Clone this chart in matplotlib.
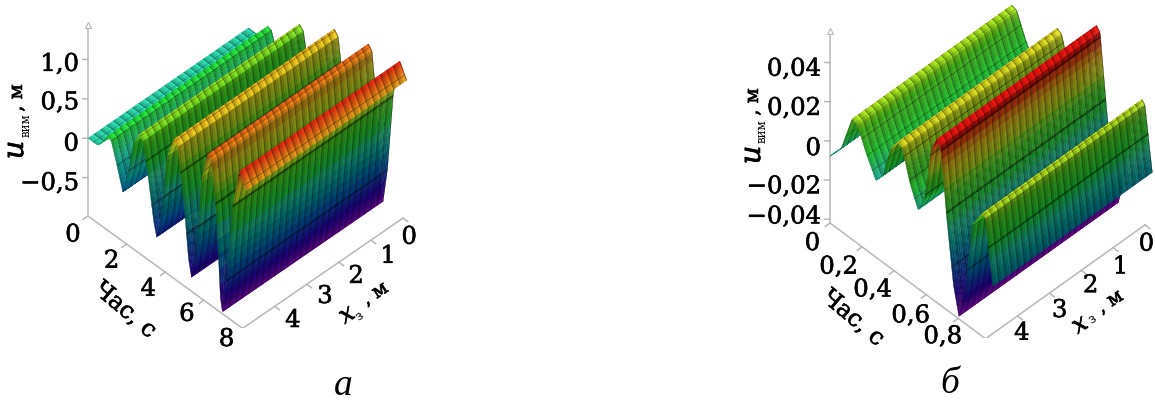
import numpy as np
import matplotlib
matplotlib.use("Agg")
import matplotlib.pyplot as plt
import matplotlib.patheffects as pe
from matplotlib.colors import LinearSegmentedColormap
from mpl_toolkits.mplot3d import proj3d

# ---- data ----
t_a = [0, .5, .8, 1.0, 1.2, 1.5, 1.8, 2.05, 2.35, 2.65, 2.85, 3.15, 3.4, 3.56, 3.8, 4.1, 4.45, 4.65, 4.95,
       5.2, 5.36, 5.6, 5.9, 6.2, 6.4, 6.65, 6.85, 6.96, 7.2, 7.5, 7.84, 8.2]
u_a = [0, 0, .1, .2, .18, -.08, -.36, -.1, .35, .52, .47, 0, -.45, -.63, -.3, .5, .78, .72, .1,
       -.6, -.82, -.4, .55, .91, .85, .2, -.8, -.98, -.5, .5, .98, .8]
t_b = [0, .07, .138, .17, .22, .286, .33, .38, .423, .45, .5, .55, .59, .63, .667, .69, .73, .77, .804,
       .84, .89, .952, .97, 1.0, 1.016]
u_b = [-.0078, .0004, .0197, .0189, .0084, -.0028, .0024, .0194, .0251, .0239, .0084, -.0018, .0064, .0334, .0415,
       .0394, .0034, -.0266, -.0406, -.0266, .0114, .021, .0194, -.0016, -.0123]

z_ticks_a = [1.0, 0.5, 0, -0.5]
z_labels_a = ["1,0", "0,5", "0", "\u22120,5"]
t_ticks_a = [0, 2, 4, 6, 8]
t_labels_a = ["0", "2", "4", "6", "8"]
x_ticks = [0, 1, 2, 3, 4]
x_labels = ["0", "1", "2", "3", "4"]
z_ticks_b = [.04, .02, 0, -.02, -.04]
z_labels_b = ["0,04", "0,02", "0", "\u22120,02", "\u22120,04"]
t_ticks_b = [0, .2, .4, .6, .8]
t_labels_b = ["0", "0,2", "0,4", "0,6", "0,8"]

W, H = 1155, 405
fig = plt.figure(figsize=(W / 100, H / 100), dpi=100, facecolor="white")
FONT = "DejaVu Serif"
GREY = "#b8b8b8"
HEAVY = [pe.withStroke(linewidth=.45, foreground="#111111")]

cmap = LinearSegmentedColormap.from_list("rb", [
    (0, "#a010c8"), (.13, "#2a00b8"), (.3, "#0068b8"), (.42, "#00a8a0"), (.5, "#20c8a0"),
    (.6, "#20d830"), (.72, "#50d820"), (.78, "#b8e020"), (.86, "#e8d020"), (.93, "#ec8818"), (1, "#ec1410")])


def ptext(px, py, s, **kw):
    kw.setdefault("family", FONT)
    kw.setdefault("ha", "center")
    kw.setdefault("va", "center")
    fig.text(px / W, 1 - py / H, s, **kw)


def panel(t_k, u_k, tmax, zlim, zt, zl, tt, tl, view, aspect, A, B, tlab_dx, xlab, norm_rng, t_step, zshift,
          z_dy, t_px, x_px):
    ax = fig.add_axes([.1, .1, .3, .3 * W / H], projection="3d", proj_type="ortho")
    ax.computed_zorder = False
    ax.set_axis_off()
    ax.view_init(elev=view[0], azim=view[1])
    ax.set_box_aspect(aspect)

    # grid: thin rows / columns carry the dark mesh lines
    x_edges = []
    d = 5 / 25
    for e in np.linspace(0, 5, 26)[:-1]:
        x_edges += [e, e + .03, e + .03 + (d - .03) / 3, e + .03 + 2 * (d - .03) / 3]
    x_edges = np.array(x_edges + [5.0])
    tend = t_k[-1]
    tg = []
    for m in np.arange(0, tend, t_step):
        tg += list(np.linspace(m, m + t_step * .96, 9)) + [min(m + t_step, tend)]
    tg = np.unique(np.clip(tg, 0, tend))
    is_line_t = np.zeros(len(tg) - 1, bool)
    for i, v in enumerate(tg[:-1]):
        is_line_t[i] = (tg[i + 1] - v) < t_step * .06 and abs(tg[i + 1] / t_step - round(tg[i + 1] / t_step)) < 1e-6
    u_g = np.interp(tg, t_k, u_k)
    X, T = np.meshgrid(x_edges, tg)
    U = np.tile(u_g[:, None], (1, len(x_edges)))

    rng = norm_rng[1] - norm_rng[0]
    ucell = (u_g[:-1] + u_g[1:]) / 2
    slope = np.abs(np.diff(u_g) / np.maximum(np.diff(tg), 1e-9))
    base = cmap(np.clip((ucell - norm_rng[0]) / rng, 0, 1))[:, :3]
    shade_t = .6 + .45 * np.exp(-(slope / (np.percentile(slope, 95) * .3)) ** 2)
    shade_t = np.where(is_line_t, shade_t * .55, shade_t)
    shade_x = np.tile([.62, 1.06, .96, .84], 25)
    fc = np.ones((len(tg) - 1, len(x_edges) - 1, 4))
    for j in range(len(x_edges) - 1):
        fc[:, j, :3] = np.clip(base * (shade_t * shade_x[j])[:, None], 0, 1)
    ax.plot_surface(X, T, U, facecolors=fc, rstride=1, cstride=1, shade=False, linewidth=.25, zorder=3)
    ax.set_xlim(0, 5)
    ax.set_ylim(0, tmax)
    ax.set_zlim(*zlim)

    # axes lines, ticks
    kw = dict(color=GREY, lw=1.1, zorder=1)
    ax.plot([5, 5], [0, 0], zlim, **kw)
    ax.plot([5, 5], [0, tmax], [zlim[0]] * 2, **kw)
    ax.plot([0, 5], [tmax, tmax], [zlim[0]] * 2, **kw)
    ax.plot([5], [0], [zlim[1]], marker="^", ms=4, mfc="white", mec=GREY, mew=.8, zorder=1)
    ts = tmax / 8
    for z in zt:
        ax.plot([5, 5.08], [0, -.13 * ts], [z, z], **kw)
    for v in tt:
        ax.plot([5, 5.15], [v, v], [zlim[0]] * 2, **kw)
    for v in x_ticks:
        ax.plot([v, v], [tmax, tmax + .25 * ts], [zlim[0]] * 2, **kw)

    # place the axes box so that the two anchors land on their pixels
    za = zlim[0]

    def to_px(p):
        x2, y2, _z = proj3d.proj_transform(*p, ax.get_proj())
        return ax.transData.transform((x2, y2))

    for _ in range(6):
        ax.apply_aspect()
        pa, pb = to_px((5, 0, za)), to_px((0, tmax, za))
        s = (B[0] - A[0]) / (pb[0] - pa[0])
        pos = ax.get_position()
        w, h = pos.width * s, pos.height * s
        cx = pos.x0 + pos.width / 2
        cy = pos.y0 + pos.height / 2
        fx = (pa[0] / W - cx) * s + cx
        fy = (pa[1] / H - cy) * s + cy
        cx += A[0] / W - fx
        cy += (1 - A[1] / H) - fy
        ax.set_position([cx - w / 2, cy - h / 2, w, h])
    ax.apply_aspect()

    # tick labels, placed from the projected tick positions
    tk = dict(fontsize=17.5, path_effects=HEAVY)
    for z, s, dy in zip(zt, zl, z_dy):
        p = to_px((5.16, -.2 * ts, z + zshift))
        ptext(p[0], H - p[1] + dy, s, ha="right", **tk)
    for v, s, dx, o in zip(tt, tl, tlab_dx, t_px):
        p = to_px((5 + dx, v, za))
        ptext(p[0] + o[0], H - p[1] + o[1], s, **tk)
    for v, s, o in zip(x_ticks, x_labels, x_px):
        p = to_px((v + xlab[0], tmax + xlab[1] * ts, za))
        ptext(p[0] + o[0], H - p[1] + o[1], s, **tk)
    return ax


panel(t_a, u_a, 8.0, (-.987, 1.436), z_ticks_a, z_labels_a, t_ticks_a, t_labels_a, (45, 45.8), (223, 221, 269),
      (88, 216), (403, 217), [.5] * 5, (.1, .85), (-1.0, 1.0), .3, -.04,
      [1, 0, 2, 2], [(1, 8), (1, 6), (-1, 6), (-1, 3), (0, 0)], [(-7, 5), (4, 2), (4, 0), (5, -2), (5, 0)])
panel(t_b, u_b, .97, (-.0419, .0563), z_ticks_b, z_labels_b, t_ticks_b, t_labels_b, (46.8, 45.6), (220, 219, 277),
      (830, 223), (1145, 223), [.55, .8, .8, .8, .8], (.3, .72), (-.0406, .0374), .033, -.0015,
      [3, 3, 4, 3, -6], [(0, 8), (2, 2), (4, 1), (10, 3), (10, 0)], [(-3, 2), (3, 2), (5, -2), (6, 0), (0, 0)])

# axis titles
ptext(15, 150, "u", fontsize=21, style="italic", rotation=90, path_effects=HEAVY)
ptext(26, 125, "\u0432\u0438\u043c", fontsize=8.5, rotation=90)
ptext(17, 98, ", \u043c", fontsize=14, rotation=90, path_effects=HEAVY)
ptext(125, 310, "\u0427\u0430\u0441, \u0441", fontsize=17, rotation=-40, path_effects=HEAVY)
ptext(347, 315, "x", fontsize=18, style="italic", rotation=33, path_effects=HEAVY)
ptext(359, 316, "\u0437", fontsize=9, rotation=33)
ptext(375, 294, ", \u043c", fontsize=14, rotation=33, path_effects=HEAVY)

ptext(752, 155, "u", fontsize=21, style="italic", rotation=90, path_effects=HEAVY)
ptext(762, 131, "\u0432\u0438\u043c", fontsize=8.5, rotation=90)
ptext(753, 102, ", \u043c", fontsize=14, rotation=90, path_effects=HEAVY)
ptext(853, 318, "\u0427\u0430\u0441, \u0441", fontsize=17, rotation=-40, path_effects=HEAVY)
ptext(1080, 325, "x", fontsize=18, style="italic", rotation=33, path_effects=HEAVY)
ptext(1092, 319, "\u0437", fontsize=9, rotation=33)
ptext(1110, 302, ", \u043c", fontsize=14, rotation=33, path_effects=HEAVY)

# captions
ptext(343, 386, "\u0430", family="Liberation Serif", fontsize=27, style="italic")
ptext(950, 384, "\u0431", family="Liberation Serif", fontsize=27, style="italic")

fig.savefig("out.png", dpi=100, facecolor="white")
